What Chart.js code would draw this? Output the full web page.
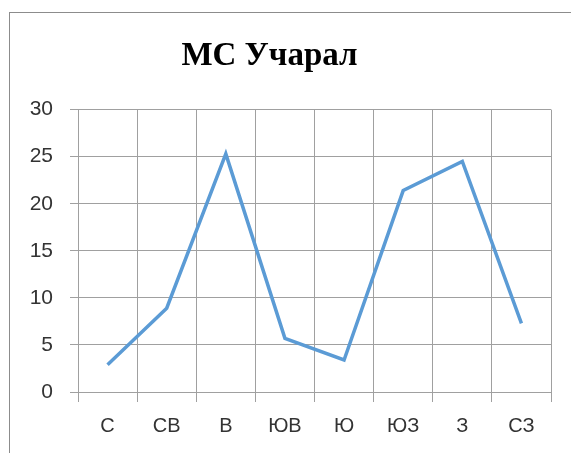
<!DOCTYPE html>
<html>
<head>
<meta charset="utf-8">
<script src="https://cdn.jsdelivr.net/npm/chart.js@4"></script>
<style>
  html, body { margin: 0; padding: 0; background: #fff; }
  .wrap { position: relative; width: 571px; height: 453px; overflow: hidden; }
  .frame { position: absolute; left: 9px; top: 12px; width: 600px; height: 500px; border: 1px solid #8c8c8c; }
  /* canvas starts 12px left of the page so the title centres like the original */
  canvas { position: absolute; left: -12px; top: 0; }
</style>
</head>
<body>
<div class="wrap">
  <div class="frame"></div>
  <canvas id="chart" width="583" height="453"></canvas>
</div>
<script>
const directions = ['С', 'СВ', 'В', 'ЮВ', 'Ю', 'ЮЗ', 'З', 'СЗ'];
const values = [2.9, 8.9, 25.3, 5.7, 3.4, 21.4, 24.5, 7.3];
const yTicks = [0, 5, 10, 15, 20, 25, 30];

const gridColor = '#a0a0a0';
const ctx = document.getElementById('chart');

new Chart(ctx, {
    type: 'line',
    data: {
        labels: directions,
        datasets: [{
            label: 'МС Учарал',
            data: values,
            borderColor: '#5b9bd5',
            borderWidth: 3.5,
            pointRadius: 0,
            tension: 0
        }]
    },
    options: {
        responsive: false,
        animation: false,
        layout: {
            padding: { left: 0, right: 20, top: 0, bottom: 0 }
        },
        scales: {
            x: {
                offset: true,
                afterFit: (scale) => { scale.height = 61; },
                grid: {
                    offset: true,
                    color: gridColor,
                    tickLength: 10
                },
                border: { color: gridColor },
                ticks: {
                    color: '#333',
                    padding: 12,
                    font: { family: 'Liberation Sans', size: 20 }
                }
            },
            y: {
                min: 0,
                max: 30,
                afterFit: (scale) => { scale.width = 90; },
                afterBuildTicks: (scale) => {
                    scale.ticks = yTicks.map(v => ({ value: v }));
                },
                grid: {
                    color: gridColor,
                    tickLength: 8
                },
                border: { color: gridColor },
                ticks: {
                    color: '#333',
                    padding: 17,
                    font: { family: 'Liberation Sans', size: 21 }
                }
            }
        },
        plugins: {
            legend: { display: false },
            tooltip: { enabled: false },
            title: {
                display: true,
                text: 'МС Учарал',
                color: '#000',
                font: { family: 'Liberation Serif', size: 33, weight: 'bold' },
                padding: { top: 37, bottom: 33 }
            }
        }
    }
});
</script>
</body>
</html>
